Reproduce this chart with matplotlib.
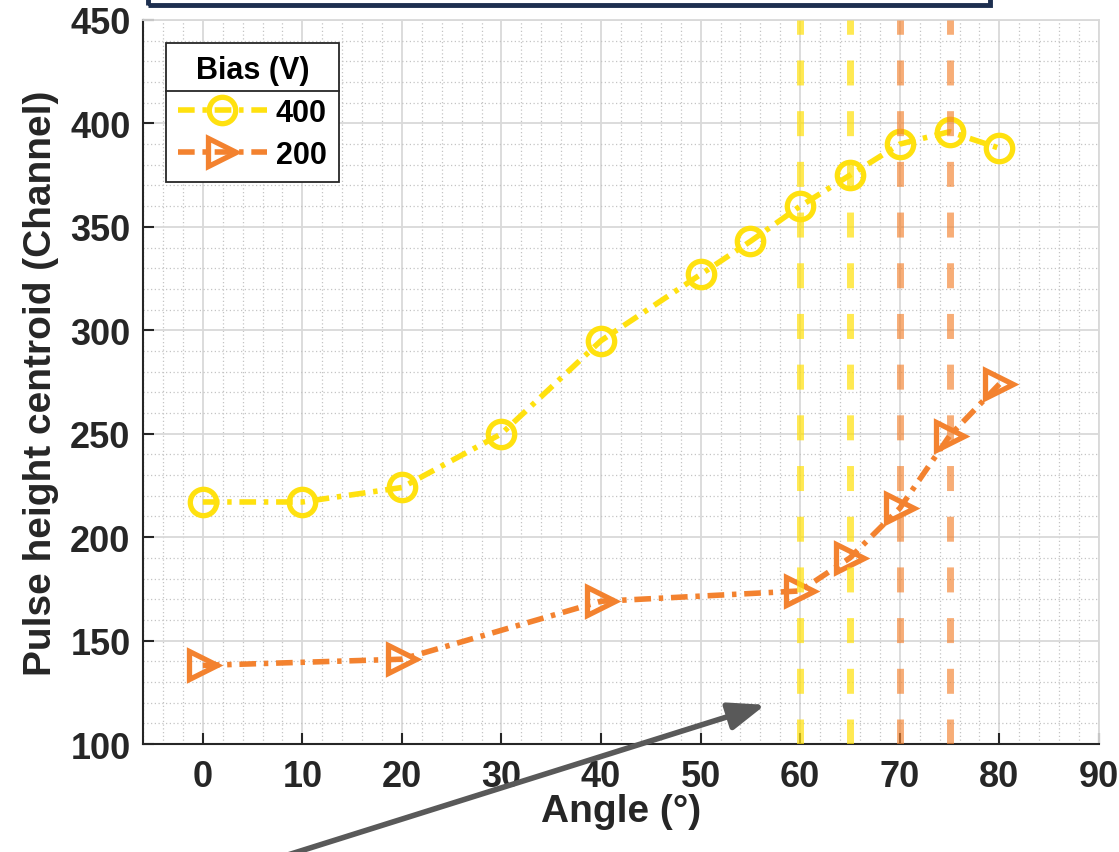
import matplotlib
matplotlib.use("Agg")
import matplotlib.pyplot as plt
from matplotlib.lines import Line2D
from matplotlib.patches import Rectangle, FancyArrowPatch
from matplotlib.ticker import MultipleLocator

plt.rcParams['font.family'] = ['Liberation Sans', 'DejaVu Sans']
plt.rcParams['font.weight'] = 'bold'

# Pulse height centroid vs. incidence angle for two bias voltages
angle_400 = [0, 10, 20, 30, 40, 50, 55, 60, 65, 70, 75, 80]
centroid_400 = [217, 217, 224, 250, 295, 327, 343, 360, 375, 390, 396, 388]
angle_200 = [0, 20, 40, 60, 65, 70, 75, 80]
centroid_200 = [138, 141, 169, 174, 190, 214, 249, 274]
bias_labels = ['400', '200']
legend_title = 'Bias (V)'
marker_angles_400 = [60, 65]
marker_angles_200 = [70, 75]

yellow = '#FFE10F'
orange = '#F3822F'
text_c = '#262626'

fig = plt.figure(figsize=(11.19, 8.53), dpi=100)
ax = fig.add_axes([0.1278, 0.1266, 0.8543, 0.8488])

dashdot = (3.0, 1.4, 0.8, 1.4)
ax.plot(angle_400, centroid_400, color=yellow, lw=4, dashes=dashdot,
        marker='o', ms=19, mfc='none', mew=3.8, mec=yellow,
        label=bias_labels[0], zorder=3)
ax.plot(angle_200, centroid_200, color=orange, lw=4, dashes=dashdot,
        marker='>', ms=20, mfc='none', mew=3.8, mec=orange,
        label=bias_labels[1], zorder=3)

for a in marker_angles_400:
    ax.axvline(a, color=yellow, lw=5, alpha=0.72, dashes=(3.6, 3.7), zorder=4)
for a in marker_angles_200:
    ax.axvline(a, color=orange, lw=5, alpha=0.65, dashes=(3.6, 3.7), zorder=4)

ax.set_xlim(-6, 90)
ax.set_ylim(100, 450)
ax.xaxis.set_major_locator(MultipleLocator(10))
ax.xaxis.set_minor_locator(MultipleLocator(2))
ax.yaxis.set_major_locator(MultipleLocator(50))
ax.yaxis.set_minor_locator(MultipleLocator(10))

ax.grid(which='major', color='#d9d9d9', lw=1.3, zorder=0)
ax.grid(which='minor', color='#c4c4c4', lw=0.9, ls=(0, (1, 2)), zorder=0)
ax.set_axisbelow(True)

for s in ['top', 'right']:
    ax.spines[s].set_color('#d9d9d9')
    ax.spines[s].set_linewidth(1.3)
for s in ['left', 'bottom']:
    ax.spines[s].set_color(text_c)
    ax.spines[s].set_linewidth(1.5)

ax.tick_params(which='major', direction='in', length=8, width=1.5,
               colors=text_c, labelsize=26, pad=11, top=False, right=False)
ax.tick_params(which='minor', length=0)
ax.tick_params(axis='y', pad=9)
for lab in ax.get_xticklabels() + ax.get_yticklabels():
    lab.set_fontweight('bold')

ax.set_xlabel('Angle (°)', fontsize=28, fontweight='bold', color=text_c, labelpad=-1)
ax.set_ylabel('Pulse height centroid (Channel)', fontsize=28, fontweight='bold',
              color=text_c, labelpad=8)

leg = ax.legend(title=legend_title, loc='upper left', bbox_to_anchor=(0.024, 0.968),
                borderaxespad=0, fancybox=False, framealpha=1, edgecolor=text_c,
                fontsize=22, title_fontsize=22, handlelength=2.9, handletextpad=0.3,
                borderpad=0.4, labelspacing=0.4)
leg.get_frame().set_linewidth(1.3)
plt.setp(leg.get_title(), fontweight='bold')
for t in leg.get_texts():
    t.set_fontweight('bold')
leg.set_zorder(10)

# separator line between legend title and entries
fig.canvas.draw()
r = fig.canvas.get_renderer()
fb = leg.get_frame().get_window_extent(r)
tb = leg.get_title().get_window_extent(r)
eb = leg.get_texts()[0].get_window_extent(r)
ysep = (tb.y0 + eb.y1) / 2
W, H = fig.bbox.width, fig.bbox.height
fig.add_artist(Line2D([fb.x0 / W, fb.x1 / W], [ysep / H, ysep / H],
                      color=text_c, lw=1.3, zorder=11))

# header box at the top edge
fig.add_artist(Rectangle((148 / 1119, 1 - 6 / 853), (990 - 148) / 1119, 0.1,
                         transform=fig.transFigure, fill=False,
                         edgecolor='#1d2f4f', lw=3.5, clip_on=False))

# pointer arrow
fig.add_artist(FancyArrowPatch((243 / 1119, -0.02), (768 / 1119, 148 / 853),
                               transform=fig.transFigure,
                               arrowstyle='-|>,head_length=1.1,head_width=0.42',
                               mutation_scale=20, lw=4, color='#595959',
                               zorder=12, clip_on=False))

fig.savefig('out.png', dpi=100)
